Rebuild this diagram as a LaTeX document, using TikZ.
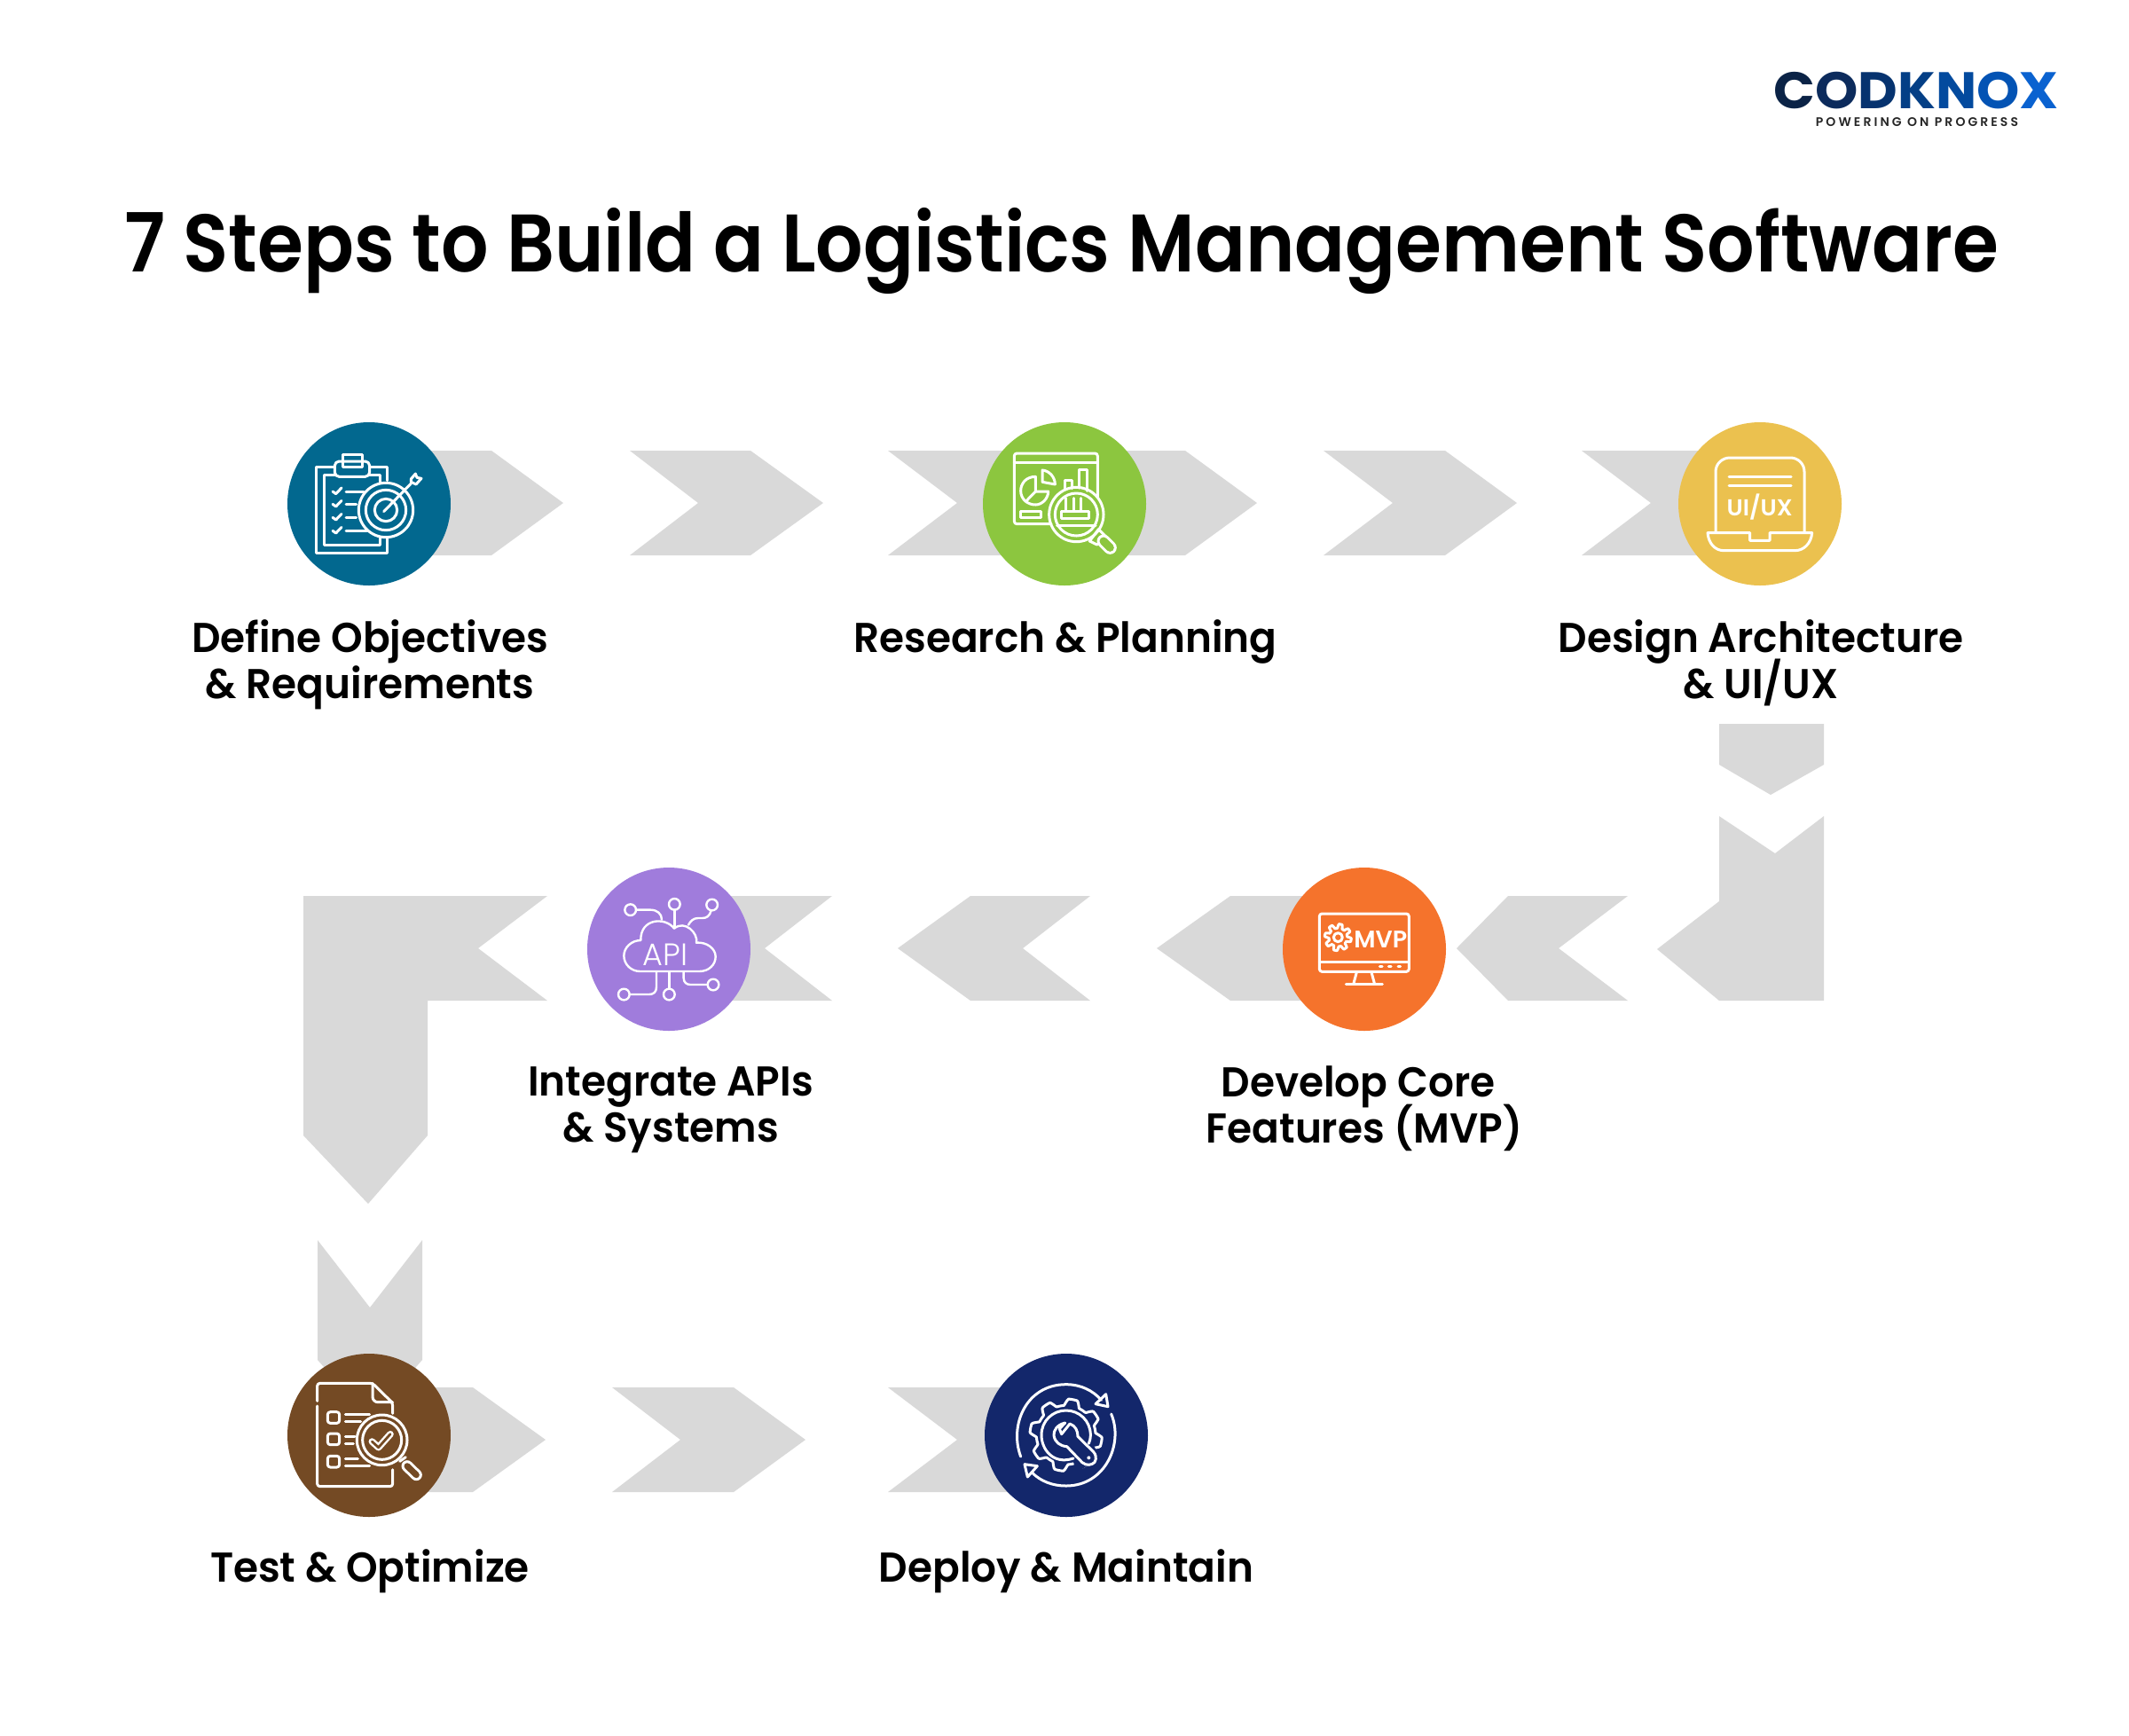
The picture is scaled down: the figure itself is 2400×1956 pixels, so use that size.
\documentclass[tikz,border=0pt]{standalone}
\usepackage{fontspec}
\setmainfont{Poppins}
\newfontfamily\fT[UprightFont=* SemiBold,FakeStretch=0.913]{Poppins}
\newfontfamily\fL[UprightFont=* SemiBold,FakeStretch=0.965]{Poppins}
\newfontfamily\fU[UprightFont=* SemiBold]{Poppins}
\newfontfamily\fI[UprightFont=* Light]{Poppins}
\newfontfamily\fB[UprightFont=* Bold,FakeStretch=1.06]{Poppins}
\newfontfamily\fS[UprightFont=* SemiBold,LetterSpace=22]{Poppins}
\definecolor{cgray}{HTML}{D9D9D9}
\definecolor{c1}{HTML}{02688F}
\definecolor{c2}{HTML}{8CC63F}
\definecolor{c3}{HTML}{EBC14F}
\definecolor{c4}{HTML}{F5732C}
\definecolor{c5}{HTML}{A07CDC}
\definecolor{c6}{HTML}{744A24}
\definecolor{c7}{HTML}{13276B}
\definecolor{l1}{HTML}{0B2346}
\definecolor{l2}{HTML}{0C2B5C}
\definecolor{l3}{HTML}{06336F}
\definecolor{l4}{HTML}{043F86}
\definecolor{l5}{HTML}{034A9E}
\definecolor{l6}{HTML}{0353B4}
\definecolor{l7}{HTML}{0A62D0}
\tikzset{
  chev/.style={fill=cgray,draw=none},
  dot/.style={circle,minimum size=92pt,inner sep=0pt,draw=none},
  lab/.style={font=\fL\fontsize{23.5pt}{26pt}\selectfont,align=center,text=black,inner sep=0pt},
  ic/.style={draw=white,line width=1.5pt,line cap=round,line join=round},
  zm/.style 2 args={shift={(#1,#2)},x=0.16667pt,y=-0.16667pt},
  ict/.style={text=white,inner sep=0pt}
}
\newcommand{\gearshape}[6]{% cx cy R A teeth extra options
  \draw[ic,#6] plot[domain=0:360,samples=181] ({#1+(#3+#4*max(-1,min(1,2*sin(#5*\x)))) *cos(\x)},{#2+(#3+#4*max(-1,min(1,2*sin(#5*\x))))*sin(\x)}) -- cycle;}
\begin{document}
\lineskiplimit=-30pt
\begin{tikzpicture}[x=0.5pt,y=-0.5pt]
\useasboundingbox (0,0) rectangle (2400,1956);
\fill[white] (0,0) rectangle (2400,1956);
% title
\node[font=\fT\fontsize{46pt}{52pt}\selectfont,anchor=base,inner sep=0pt] (title) at (1197,306) {7 Steps to Build a Logistics Management Software};
% logo
\node[font=\fB\fontsize{29pt}{32pt}\selectfont,anchor=base,inner sep=0pt,text depth=0pt] (logo) at (2160,122) {\textcolor{l1}{C}\textcolor{l2}{O}\textcolor{l3}{D}\textcolor{l4}{K}\textcolor{l5}{N}\textcolor{l6}{O}\textcolor{l7}{X}};
\node[font=\fS\fontsize{7pt}{8pt}\selectfont,text=black!85,inner sep=0pt,text height=5pt,text depth=0pt,anchor=base] (slogan) at (2161,142) {POWERING ON PROGRESS};
% chevrons
\fill[chev] (420,508)--(554,508)--(635,567)--(554,626)--(420,626)--cycle;
\fill[chev] (710,508)--(846,508)--(928,567)--(846,626)--(710,626)--(787,567)--cycle;
\fill[chev] (1001,508)--(1336,508)--(1417,567)--(1336,626)--(1001,626)--(1079,567)--cycle;
\fill[chev] (1492,508)--(1629,508)--(1710,567)--(1629,626)--(1492,626)--(1570,567)--cycle;
\fill[chev] (1783,508)--(1984,508)--(1984,626)--(1783,626)--(1861,567)--cycle;
\fill[chev] (1938,816)--(2056,816)--(2056,862)--(1996,896)--(1938,862)--cycle;
\fill[chev] (1938,920)--(2001,962)--(2056,920)--(2056,1128)--(1938,1128)--(1868,1070)--(1938,1016)--cycle;
\fill[chev] (1700,1010)--(1835,1010)--(1757,1069)--(1835,1128)--(1700,1128)--(1642,1069)--cycle;
\fill[chev] (1387,1010)--(1538,1010)--(1538,1128)--(1387,1128)--(1304,1069)--cycle;
\fill[chev] (1094,1010)--(1229,1010)--(1153,1069)--(1229,1128)--(1094,1128)--(1012,1069)--cycle;
\fill[chev] (754,1010)--(938,1010)--(862,1069)--(938,1128)--(754,1128)--cycle;
\fill[chev] (342,1010)--(617,1010)--(539,1069)--(617,1128)--(482,1128)--(482,1280)--(415,1357)--(342,1280)--cycle;
\fill[chev] (358,1398)--(417,1474)--(476,1398)--(476,1533)--(417,1600)--(358,1533)--cycle;
\fill[chev] (416,1564)--(533,1564)--(615,1623)--(533,1682)--(416,1682)--cycle;
\fill[chev] (690,1564)--(827,1564)--(908,1623)--(827,1682)--(690,1682)--(767,1623)--cycle;
\fill[chev] (1001,1564)--(1202,1564)--(1202,1682)--(1001,1682)--(1079,1623)--cycle;
% circles
\node[dot,fill=c1] (s1) at (416,568) {};
\node[dot,fill=c2] (s2) at (1200,568) {};
\node[dot,fill=c3] (s3) at (1984,568) {};
\node[dot,fill=c4] (s4) at (1538,1070) {};
\node[dot,fill=c5] (s5) at (754,1070) {};
\node[dot,fill=c6] (s6) at (416,1618) {};
\node[dot,fill=c7] (s7) at (1202,1618) {};
% labels
\node[lab] (t1) at (417,749) {Define Objectives\\\& Requirements};
\node[lab] (t2) at (1201,723) {Research \& Planning};
\node[lab] (t3) at (1985,747) {Design Architecture\\\& UI/UX};
\node[lab] (t4) at (1538,1250) {Develop Core\hspace*{7pt}\\Features (MVP)};
\node[lab] (t5) at (756,1251) {Integrate APIs\\\& Systems};
\node[lab] (t6) at (417,1771) {Test \& Optimize};
\node[lab] (t7) at (1202,1771) {Deploy \& Maintain};
% icon 1
\begin{scope}[zm={300}{460}]
\draw[ic] (232,198)--(170,198)--(170,490)--(410,490)--(410,440);
\draw[ic] (350,198)--(410,198)--(410,245);
\draw[ic] (232,225)--(195,225)--(195,462)--(385,462)--(385,440);
\draw[ic] (350,225)--(385,225)--(385,250);
\draw[ic,rounded corners=2.5pt] (232,232)--(232,180)--(350,180)--(350,232)--cycle;
\draw[ic] (258,158) rectangle (325,200);
\foreach \yy/\xe in {282/330,325/305,370/305,415/340}{
  \draw[ic] (225,\yy)--(236,\yy+8)--(255,\yy-12);
  \draw[ic] (270,\yy)--(\xe,\yy);
}
\draw[ic] (405,345) circle[radius=92];
\draw[ic] (405,345) circle[radius=68];
\draw[ic] (405,345) circle[radius=38];
\draw[ic] (398,350)--(490,255);
\draw[ic] (490,240)--(505,222)--(510,235)--(525,238)--(507,258)--(490,250)--cycle;
\end{scope}
% icon 2
\begin{scope}[zm={1090}{460}]
\draw[ic,rounded corners=1.5pt] (442,300)--(442,153)--(160,153)--(160,392)--(285,392);
\draw[ic] (160,183)--(442,183);
\draw[ic] (232,232) .. controls (200,232) and (182,255) .. (182,280) .. controls (182,308) and (205,327) .. (232,327) .. controls (255,327) and (275,305) .. (275,282)--(232,282)--cycle;
\draw[ic] (232,282)--(200,315);
\draw[ic] (255,210) .. controls (280,212) and (298,235) .. (298,258)--(255,250)--cycle;
\draw[ic] (332,272)--(332,245)--(355,245)--(355,272);
\draw[ic] (380,270)--(380,208)--(405,208)--(405,280);
\draw[ic] (182,348) rectangle (250,370);
\draw[ic] (370,360) circle[radius=92];
\draw[ic] (370,360) circle[radius=72];
\draw[ic] (320,348) rectangle (412,372);
\foreach \xx in {335,360,385}{\draw[ic] (\xx,305)--(\xx,345);}
\draw[ic] (305,396)--(435,396);
\draw[ic] (415,450)--(445,410)--(470,435)--(440,462)--cycle;
\draw[line width=7.5pt,draw=white,line cap=round] (462,450)--(484,472);
\draw[line width=4.5pt,draw=c2,line cap=round] (462,450)--(484,472);
\end{scope}
% icon 3
\begin{scope}[zm={1880}{460}]
\draw[ic] (162,420)--(162,215) .. controls (162,188) and (185,168) .. (210,168)--(415,168) .. controls (440,168) and (462,188) .. (462,215)--(462,420);
\draw[ic] (207,232)--(417,232);
\draw[ic] (207,262)--(417,262);
\node[ict,font=\fU\fontsize{13pt}{15pt}\selectfont] (ux) at (311,334) {UI/UX};
\draw[ic] (135,422)--(278,422)--(278,448)--(345,448)--(345,422)--(488,422) .. controls (485,458) and (460,482) .. (430,482)--(190,482) .. controls (160,482) and (138,458) .. (135,422)--cycle;
\end{scope}
% icon 4
\begin{scope}[zm={1440}{970}]
\draw[ic,rounded corners=1.5pt] (142,180) rectangle (445,376);
\draw[ic] (142,343)--(445,343);
\foreach \xx in {350,380,412}{\draw[ic] (\xx-4,357)--(\xx+4,357);}
\draw[ic] (268,378)--(258,415);
\draw[ic] (318,378)--(328,415);
\draw[ic] (232,418)--(355,418);
\gearshape{205}{260}{38}{7}{8}{}
\draw[ic] (205,260) circle[radius=15];
\node[ict,font=\fU\fontsize{13.5pt}{15pt}\selectfont] (mvp) at (349,268) {MVP};
\end{scope}
% icon 5
\begin{scope}[zm={650}{970}]
\draw[ic,line width=1.2pt] (215,375)--(415,375) .. controls (448,375) and (470,352) .. (470,325) .. controls (470,298) and (440,275) .. (405,278) .. controls (412,245) and (365,200) .. (330,230) .. controls (300,190) and (215,195) .. (217,270) .. controls (185,270) and (160,295) .. (160,322) .. controls (160,352) and (185,375) .. (215,375)--cycle;
\foreach \a/\b in {182/167,331/148,458/150,462/420,313/453,160/453}{\draw[ic,line width=1.2pt] (\a,\b) circle[radius=19];}
\draw[ic,line width=1.2pt] (201,167)--(250,167) .. controls (272,167) and (288,180) .. (288,200);
\draw[ic,line width=1.2pt] (331,167)--(331,228);
\draw[ic,line width=1.2pt] (455,169) .. controls (450,188) and (440,195) .. (425,195)--(410,195) .. controls (395,195) and (385,205) .. (378,218);
\draw[ic,line width=1.2pt] (270,378)--(270,428) .. controls (270,445) and (260,453) .. (245,453)--(179,453);
\draw[ic,line width=1.2pt] (313,378)--(313,434);
\draw[ic,line width=1.2pt] (362,378)--(362,398) .. controls (362,412) and (372,420) .. (385,420)--(443,420);
\node[ict,font=\fI\fontsize{17.5pt}{20pt}\selectfont] (api) at (300,318) {API};
\end{scope}
% icon 6
\begin{scope}[zm={310}{1520}]
\draw[ic,rounded corners=1.5pt] (143,178)--(143,118)--(330,118)--(398,185)--(398,220);
\draw[ic,rounded corners=3pt] (330,118)--(330,182)--(398,182);
\draw[ic,rounded corners=1.5pt] (143,195)--(143,467)--(398,467)--(398,410);
\foreach \yy in {215,288,364}{\draw[ic,rounded corners=1.5pt] (178,\yy) rectangle (218,\yy+38);}
\draw[ic] (238,222)--(320,222);
\draw[ic] (238,248)--(290,248);
\draw[ic] (238,298)--(270,298);
\draw[ic] (238,322)--(265,322);
\draw[ic] (238,372)--(280,372);
\draw[ic] (238,396)--(320,396);
\draw[ic] (362,310) circle[radius=85];
\draw[ic] (362,310) circle[radius=66];
\draw[line width=3.8pt,draw=white,line join=round,line cap=round] (328,315)--(350,335)--(390,290);
\draw[line width=1.4pt,draw=c6,line join=round,line cap=round] (328,315)--(350,335)--(390,290);
\draw[ic] (422,382)--(442,368);
\draw[ic] (438,405)--(455,388);
\draw[line width=6.5pt,draw=white,line cap=round] (447,398)--(478,428);
\draw[line width=3.5pt,draw=c6,line cap=round] (447,398)--(478,428);
\end{scope}
% icon 7
\begin{scope}[zm={1100}{1520}]
\draw[ic] (152,366) .. controls (112,260) and (170,122) .. (305,122) .. controls (355,122) and (395,142) .. (425,175);
\draw[ic] (458,222) .. controls (500,320) and (440,465) .. (305,465) .. controls (260,465) and (220,450) .. (190,420);
\draw[ic] (440,155)--(447,197)--(405,188)--cycle;
\draw[ic] (165,392)--(208,398)--(175,435)--cycle;
\gearshape{305}{293}{111}{11}{8}{}
\fill[c7] (305,293) -- (400,330) -- (420,370) -- (340,420) -- cycle;
\draw[ic] (330,372) .. controls (260,395) and (222,340) .. (222,293) .. controls (222,245) and (260,210) .. (305,210) .. controls (350,210) and (388,245) .. (388,293) .. controls (388,305) and (385,315) .. (382,322);
\draw[ic,fill=c7] (302,252)  .. controls (275,258) and (262,278) .. (264,295) .. controls (268,318) and (285,330) .. (308,332)--(360,386) .. controls (375,398) and (392,395) .. (402,385) .. controls (410,370) and (405,358) .. (398,350)--(345,298) .. controls (345,280) and (338,262) .. (318,255)--(290,290)--(283,272)--cycle;
\fill[white] (382,370) circle[radius=6];
\end{scope}
\end{tikzpicture}
\end{document}
